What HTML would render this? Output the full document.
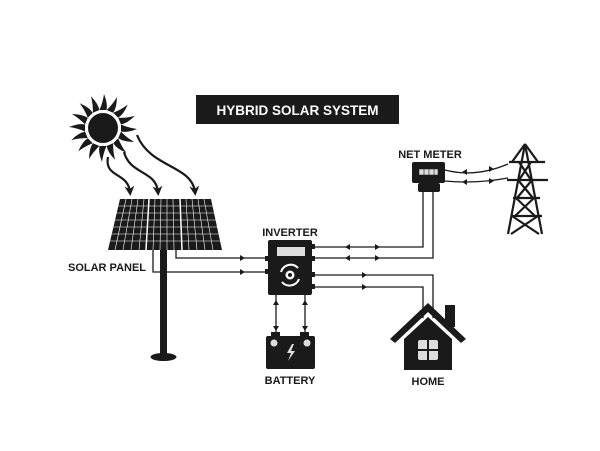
<!DOCTYPE html>
<html><head><style>
html,body{margin:0;padding:0;background:#fff}
svg{display:block}
text{font-family:"Liberation Sans",sans-serif;font-weight:bold;fill:#1a1a1a}
</style></head><body>
<svg width="600" height="451" viewBox="0 0 600 451" xmlns="http://www.w3.org/2000/svg">
<defs>
<marker id="big" viewBox="0 0 10 10" refX="6" refY="5" markerWidth="4.5" markerHeight="4.5" orient="auto"><path d="M0,0 L10,5 L0,10 L3,5 z" fill="#1a1a1a"/></marker>
</defs>
<rect x="196" y="95" width="203" height="29" fill="#1a1a1a"/>
<text x="297.5" y="115" font-size="13.5" text-anchor="middle" style="fill:#fff">HYBRID SOLAR SYSTEM</text>

<g transform="translate(103,128)" fill="#1a1a1a">
<circle r="15"/>
<g id="r"><path d="M-3.5,-18 Q0,-26 1,-34 Q5,-24 3.5,-18 z"/></g>
<use href="#r" transform="rotate(22.5)"/><use href="#r" transform="rotate(45)"/><use href="#r" transform="rotate(67.5)"/>
<use href="#r" transform="rotate(90)"/><use href="#r" transform="rotate(112.5)"/><use href="#r" transform="rotate(135)"/><use href="#r" transform="rotate(157.5)"/>
<use href="#r" transform="rotate(180)"/><use href="#r" transform="rotate(202.5)"/><use href="#r" transform="rotate(225)"/><use href="#r" transform="rotate(247.5)"/>
<use href="#r" transform="rotate(270)"/><use href="#r" transform="rotate(292.5)"/><use href="#r" transform="rotate(315)"/><use href="#r" transform="rotate(337.5)"/>
</g>
<g fill="none" stroke="#1a1a1a" stroke-width="2.2">
<path d="M108,157 C104,178 128,172 130,192" marker-end="url(#big)"/>
<path d="M124,152 C130,175 156,170 158,192" marker-end="url(#big)"/>
<path d="M137,135 C150,168 192,165 195,192" marker-end="url(#big)"/>
</g>

<polygon points="120,199 211,199 222,250 108,250" fill="#1a1a1a"/>
<g stroke="#fff" stroke-width="0.6">
<line x1="113" y1="206" x2="218" y2="206"/><line x1="112" y1="213" x2="219" y2="213"/><line x1="111" y1="220" x2="219" y2="220"/><line x1="110" y1="227" x2="220" y2="227"/><line x1="110" y1="234" x2="221" y2="234"/><line x1="109" y1="241" x2="221" y2="241"/>
<line x1="126" y1="199" x2="115" y2="250"/><line x1="132" y1="199" x2="123" y2="250"/><line x1="138" y1="199" x2="131" y2="250"/><line x1="144" y1="199" x2="139" y2="250"/>
<line x1="155" y1="199" x2="153" y2="250"/><line x1="161" y1="199" x2="160" y2="250"/><line x1="167" y1="199" x2="167" y2="250"/><line x1="173" y1="199" x2="174" y2="250"/>
<line x1="186" y1="199" x2="189" y2="250"/><line x1="192" y1="199" x2="197" y2="250"/><line x1="198" y1="199" x2="205" y2="250"/><line x1="204" y1="199" x2="213" y2="250"/>
</g>
<g stroke="#fff" stroke-width="1.5"><line x1="149" y1="199" x2="146" y2="250"/><line x1="180" y1="199" x2="182" y2="250"/></g>
<rect x="160" y="250" width="7" height="105" fill="#1a1a1a"/>
<ellipse cx="163.5" cy="357" rx="13" ry="4" fill="#1a1a1a"/>
<text x="68" y="271" font-size="11">SOLAR PANEL</text>

<g fill="none" stroke="#1a1a1a" stroke-width="1.3">
<path d="M176,250 V258 H268"/>
<path d="M153,250 V272 H268"/>
<path d="M312,247 H423 V192"/>
<path d="M312,258 H433 V192"/>
<path d="M312,275 H433 V318"/>
<path d="M312,287 H423 V318"/>
<path d="M276,295 V336"/><path d="M305,295 V336"/>
<path d="M445,170 Q475,178 508,164"/>
<path d="M445,181 Q475,184 508,178"/>
</g>
<g fill="#1a1a1a">
<path d="M240,255 l5,3 l-5,3z"/><path d="M240,269 l5,3 l-5,3z"/>
<path d="M350,244 l-5,3 l5,3z"/><path d="M375,244 l5,3 l-5,3z"/>
<path d="M350,255 l-5,3 l5,3z"/><path d="M375,255 l5,3 l-5,3z"/>
<path d="M362,272 l5,3 l-5,3z"/><path d="M362,284 l5,3 l-5,3z"/>
<path d="M273,305 l3,-5 l3,5z"/><path d="M273,326 l3,5 l3,-5z"/>
<path d="M302,305 l3,-5 l3,5z"/><path d="M302,326 l3,5 l3,-5z"/>
<path d="M467,169 l-5,3 l5,3z"/><path d="M489,166 l5,3 l-5,3z"/>
<path d="M467,179 l-5,3 l5,3z"/><path d="M489,178 l5,3 l-5,3z"/>
</g>

<text x="290" y="236" font-size="11" text-anchor="middle">INVERTER</text>
<rect x="268" y="240" width="44" height="55" rx="2" fill="#1a1a1a"/>
<rect x="265" y="256" width="4" height="5" fill="#1a1a1a"/><rect x="265" y="269" width="4" height="5" fill="#1a1a1a"/>
<rect x="311" y="244" width="4" height="5" fill="#1a1a1a"/><rect x="311" y="256" width="4" height="5" fill="#1a1a1a"/><rect x="311" y="272" width="4" height="5" fill="#1a1a1a"/><rect x="311" y="284" width="4" height="5" fill="#1a1a1a"/>
<rect x="277" y="247" width="28" height="9" fill="#ddd"/>
<g fill="none" stroke="#fff" stroke-width="2"><path d="M281,272 A10,10 0 0 1 298,268"/><path d="M299,279 A10,10 0 0 1 282,282"/></g>
<circle cx="290" cy="275" r="4.5" fill="#fff"/><circle cx="290" cy="275" r="2" fill="#1a1a1a"/>

<rect x="271" y="332" width="9" height="5" fill="#1a1a1a"/><rect x="300" y="332" width="9" height="5" fill="#1a1a1a"/>
<rect x="266" y="336" width="49" height="33" rx="2" fill="#1a1a1a"/>
<circle cx="274" cy="343" r="3.5" fill="#ddd"/><circle cx="307" cy="343" r="3.5" fill="#ddd"/>
<path d="M292,344 l-5,9 h4 l-3,8 l7,-10 h-4 l3,-7z" fill="#ddd"/>
<text x="290" y="384" font-size="11" text-anchor="middle">BATTERY</text>

<rect x="445" y="305" width="10" height="22" fill="#1a1a1a"/>
<polygon points="428,303 466,339 461,343 428,312 395,343 390,339" fill="#1a1a1a"/>
<polygon points="428,317 452,339 452,370 404,370 404,339" fill="#1a1a1a"/>
<rect x="418" y="340" width="20" height="20" rx="2" fill="#ddd"/>
<rect x="427" y="340" width="2" height="20" fill="#1a1a1a"/><rect x="418" y="349" width="20" height="2" fill="#1a1a1a"/>
<text x="428" y="385" font-size="11" text-anchor="middle">HOME</text>

<text x="430" y="158" font-size="11" text-anchor="middle">NET METER</text>
<rect x="412" y="162" width="33" height="21" rx="2" fill="#1a1a1a"/>
<rect x="418" y="183" width="22" height="9" rx="2" fill="#1a1a1a"/>
<rect x="419" y="169" width="19" height="6" fill="#ddd" stroke="#1a1a1a" stroke-width="0.5"/>
<g stroke="#1a1a1a" stroke-width="0.6"><line x1="424" y1="169" x2="424" y2="175"/><line x1="429" y1="169" x2="429" y2="175"/><line x1="434" y1="169" x2="434" y2="175"/></g>

<g fill="none" stroke="#1a1a1a" stroke-width="2.2">
<path d="M525,144 L508,234 M525,144 L542,234"/>
<path d="M509,162 H545 M507,180 H548 M513,198 H540 M511,216 H542"/>
<path d="M519,162 L531,180 M531,162 L519,180 M518,180 L533,198 M532,180 L517,198 M516,198 L535,216 M534,198 L515,216 M512,216 L539,234 M538,216 L511,234"/>
<path d="M525,144 L512,162 M525,144 L538,162"/>
</g>
</svg>
</body></html>
